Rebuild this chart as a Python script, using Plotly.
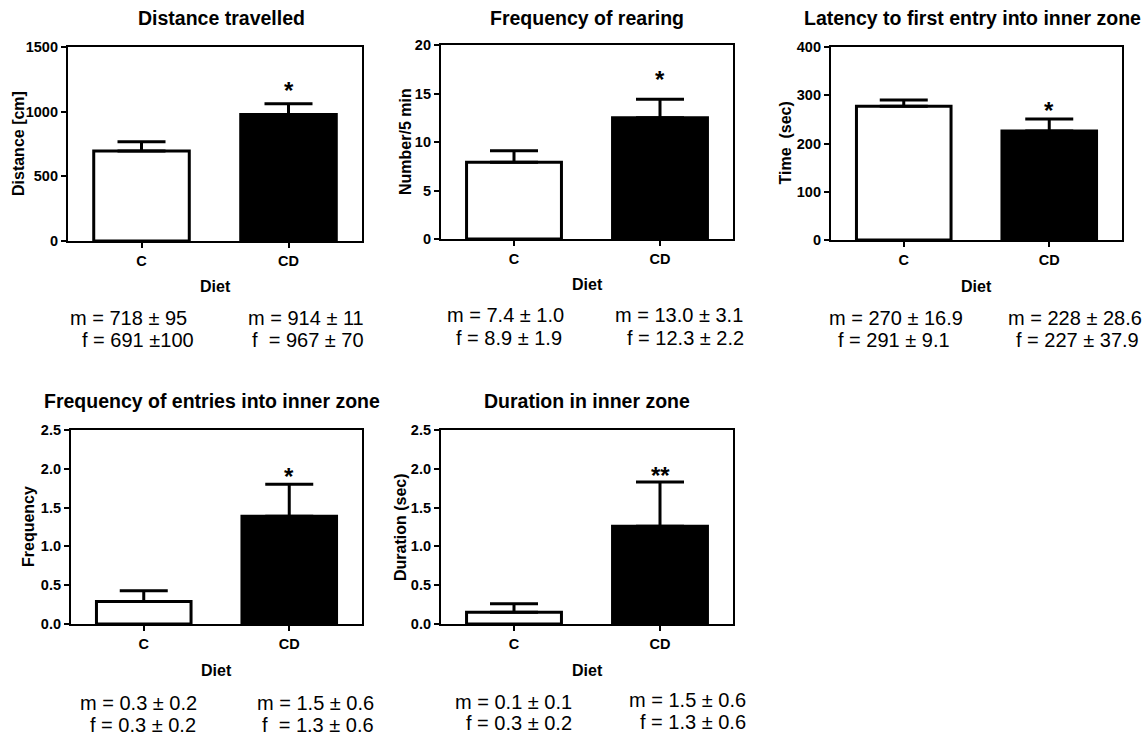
import plotly.graph_objects as go

# ---------------- data ----------------
groups = ["C", "CD"]

titles = [
    "Distance travelled",
    "Frequency of rearing",
    "Latency to first entry into inner zone",
    "Frequency of entries into inner zone",
    "Duration in inner zone",
]
y_titles = ["Distance [cm]", "Number/5 min", "Time\u00a0\u00a0(sec)", "Frequency", "Duration (sec)"]
x_title = "Diet"

distance_mean = [696, 979]
distance_sem = [72, 83]
rearing_mean = [7.9, 12.5]
rearing_sem = [1.2, 1.9]
latency_mean = [277, 226]
latency_sem = [13, 25]
entries_mean = [0.29, 1.39]
entries_sem = [0.14, 0.41]
duration_mean = [0.15, 1.26]
duration_sem = [0.11, 0.57]

y_ranges = [[0, 1500], [0, 20], [0, 400], [0, 2.5], [0, 2.5]]
y_tickvals = [
    [0, 500, 1000, 1500],
    [0, 5, 10, 15, 20],
    [0, 100, 200, 300, 400],
    [0, 0.5, 1.0, 1.5, 2.0, 2.5],
    [0, 0.5, 1.0, 1.5, 2.0, 2.5],
]
y_tickformat = ["d", "d", "d", ".1f", ".1f"]

significance = [["", "*"], ["", "*"], ["", "*"], ["", "*"], ["", "**"]]

stats_text = [
    [["m = 718 ± 95", "f = 691 ±100"], ["m = 914 ± 11", "f\u00a0\u00a0= 967 ± 70"]],
    [["m = 7.4 ± 1.0", "f = 8.9 ± 1.9"], ["m = 13.0 ± 3.1", "f = 12.3 ± 2.2"]],
    [["m = 270 ± 16.9", "f = 291 ± 9.1"], ["m = 228 ± 28.6", "f = 227 ± 37.9"]],
    [["m = 0.3 ± 0.2", "f = 0.3 ± 0.2"], ["m = 1.5 ± 0.6", "f\u00a0\u00a0= 1.3 ± 0.6"]],
    [["m = 0.1 ± 0.1", "f = 0.3 ± 0.2"], ["m = 1.5 ± 0.6", "f = 1.3 ± 0.6"]],
]

means = [distance_mean, rearing_mean, latency_mean, entries_mean, duration_mean]
sems = [distance_sem, rearing_sem, latency_sem, entries_sem, duration_sem]

# ---------------- layout geometry (pixels) ----------------
W, H = 1148, 740
# plot boxes: (left, right, top, bottom) in px
boxes = [
    (68, 362, 47, 241),
    (441, 733, 45, 239),
    (831, 1122, 47, 240),
    (71, 362, 430, 624),
    (441, 733, 430, 624),
]
title_y = [18, 18, 18, 401, 401]
title_x = [221, 587, 972, 212, 587]
star_shift = [-2, 4, -7, -8, -9]
# stats text positions: per panel, per group, per line -> (x_left, y_center)
stats_pos = [
    [[(68, 318), (80, 340)], [(246, 318), (250, 340)]],
    [[(445, 315), (454, 338)], [(613, 315), (625, 338)]],
    [[(827, 318), (836, 340)], [(1006, 318), (1014, 340)]],
    [[(78, 703), (88, 725)], [(255, 703), (260, 725)]],
    [[(453, 702), (464, 723)], [(627, 700), (638, 722)]],
]
ytitle_x = [18, 405, 785, 28, 400]
xtitle_y = [287, 285, 286, 670, 670]

FONT = "Liberation Sans, Arial, sans-serif"

fig = go.Figure()
layout = dict(
    width=W, height=H,
    margin=dict(l=0, r=0, t=0, b=0),
    paper_bgcolor="white", plot_bgcolor="white",
    showlegend=False,
    font=dict(family=FONT, color="black"),
)
annotations = []

for i in range(5):
    n = "" if i == 0 else str(i + 1)
    xa, ya = "x" + n, "y" + n
    l, r, t, b = boxes[i]
    fig.add_trace(go.Bar(
        x=groups, y=means[i],
        xaxis=xa, yaxis=ya,
        width=0.65,
        marker=dict(color=["white", "black"], line=dict(color="black", width=3)),
        error_y=dict(type="data", array=sems[i], arrayminus=[0, 0], symmetric=False,
                     color="black", thickness=3, width=24),
        hoverinfo="skip",
    ))
    common = dict(showline=True, linecolor="black", linewidth=2.2, mirror=True,
                  ticks="outside", ticklen=5, tickwidth=2, tickcolor="black",
                  showgrid=False, zeroline=False, automargin=False,
                  tickfont=dict(family=FONT, size=14.5, color="black", weight="bold"))
    layout["xaxis" + n] = dict(
        common, domain=[l / W, r / W], anchor=ya,
        range=[-0.5, 1.5], type="category", fixedrange=True,
    )
    layout["yaxis" + n] = dict(
        common, domain=[1 - b / H, 1 - t / H], anchor=xa,
        range=y_ranges[i], tickvals=y_tickvals[i], tickformat=y_tickformat[i],
        fixedrange=True,
    )
    # panel title
    annotations.append(dict(text=titles[i], xref="paper", yref="paper",
                            x=title_x[i] / W, y=1 - title_y[i] / H,
                            xanchor="center", yanchor="middle", showarrow=False,
                            font=dict(family=FONT, size=19.5, color="black", weight="bold")))
    # y-axis title
    annotations.append(dict(text=y_titles[i], xref="paper", yref="paper",
                            x=ytitle_x[i] / W, y=1 - ((t + b) / 2) / H, textangle=-90,
                            xanchor="center", yanchor="middle", showarrow=False,
                            font=dict(family=FONT, size=16, color="black", weight="bold")))
    # x-axis title
    annotations.append(dict(text=x_title, xref="paper", yref="paper",
                            x=((l + r) / 2) / W, y=1 - xtitle_y[i] / H,
                            xanchor="center", yanchor="middle", showarrow=False,
                            font=dict(family=FONT, size=16, color="black", weight="bold")))
    # significance markers
    for g in range(2):
        if significance[i][g]:
            annotations.append(dict(text=significance[i][g], xref=xa, yref=ya,
                                    x=groups[g], y=means[i][g] + sems[i][g],
                                    xanchor="center", yanchor="bottom", yshift=star_shift[i],
                                    showarrow=False,
                                    font=dict(family=FONT, size=24, color="black", weight="bold")))
    # stats text
    for g in range(2):
        for k in range(2):
            px, py = stats_pos[i][g][k]
            annotations.append(dict(text=stats_text[i][g][k], xref="paper", yref="paper",
                                    x=px / W, y=1 - py / H,
                                    xanchor="left", yanchor="middle", showarrow=False,
                                    font=dict(family=FONT, size=20, color="black")))

layout["annotations"] = annotations
fig.update_layout(**layout)
fig.write_html("out.html", config={"displayModeBar": False},
               post_script="document.body.style.margin='0';document.body.style.overflow='hidden';")
